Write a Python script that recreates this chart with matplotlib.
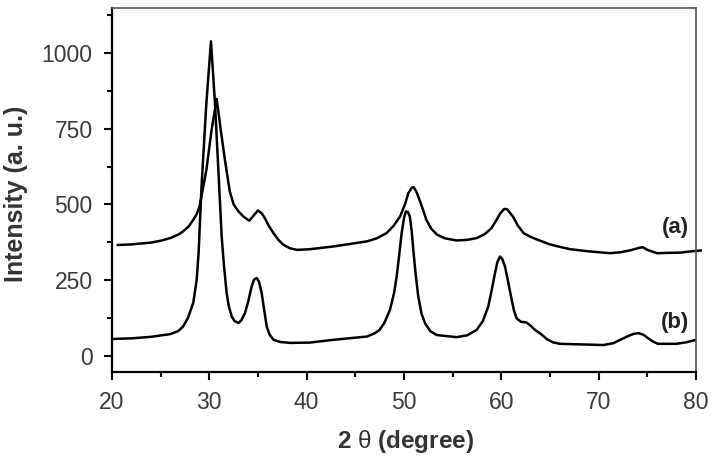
import matplotlib
matplotlib.use("Agg")
import matplotlib.pyplot as plt
from matplotlib.ticker import MultipleLocator

plt.rcParams['font.family'] = ['Liberation Sans', 'DejaVu Sans']
plt.rcParams['mathtext.fontset'] = 'custom'
plt.rcParams['mathtext.rm'] = 'Liberation Sans'

# curve (a)
two_theta_a = [20.6, 22, 24, 25, 26, 26.8, 27.3, 27.9, 28.35, 28.7, 29.0, 29.7,
               30.24, 30.76, 31.17, 31.6, 32.1, 32.5, 33.0, 33.5, 34.1, 34.6, 35.0,
               35.4, 35.7, 36.1, 36.6, 37.1, 37.6, 38.3, 39.0, 40.3, 42.7, 46.2,
               47.2, 48.2, 48.9, 49.6, 50.1, 50.45, 50.8, 51.0, 51.3, 51.6, 52.0,
               52.3, 52.8, 53.4, 54.2, 55.4, 56.5, 57.5, 58.3, 59.0, 59.5, 59.9,
               60.3, 60.6, 61.2, 61.7, 62.3, 63.0, 63.6, 65.0, 66.0, 67.1, 69.0,
               71.2, 72.2, 73.2, 74.0, 74.5, 75.0, 76.0, 77.2, 78.4, 79.5, 80.5]
intensity_a = [366, 368, 374, 380, 389, 400, 411, 428, 449, 468, 493, 614,
               747, 848, 747, 648, 543, 500, 477, 460, 446, 465, 480,
               470, 455, 430, 405, 383, 367, 355, 350, 352, 361, 378,
               388, 405, 428, 460, 500, 537, 555, 557, 540, 515, 478,
               449, 420, 400, 388, 381, 383, 389, 402, 422, 448, 471,
               485, 484, 460, 430, 405, 393, 385, 368, 360, 352, 345,
               339, 342, 348, 355, 359, 350, 339, 340, 341, 345, 348]

# curve (b)
two_theta_b = [20, 22, 24, 26, 26.8, 27.3, 27.8, 28.35, 28.7, 28.9, 29.2, 29.7,
               30.17, 30.58, 30.93, 31.27, 31.5, 31.78, 32.0, 32.3, 32.6, 33.0,
               33.3, 33.67, 34.0, 34.35, 34.6, 34.87, 35.1, 35.38, 35.6, 35.9,
               36.2, 36.6, 37.3, 38.3, 40.3, 42.7, 46.2, 47.0, 47.5, 48.0, 48.56,
               49.0, 49.25, 49.5, 49.76, 50.0, 50.2, 50.4, 50.6, 50.8, 50.96, 51.2,
               51.47, 51.8, 52.16, 52.7, 53.36, 55.4, 56.5, 57.47, 58.1, 58.66,
               59.0, 59.35, 59.6, 59.87, 60.1, 60.38, 60.7, 61.07, 61.3, 61.58,
               62.0, 62.6, 63.0, 63.5, 63.97, 64.7, 65.3, 66.0, 70.5, 71.5, 72.2,
               73.0, 73.6, 74.1, 74.6, 75.1, 75.6, 76.1, 78.0, 79.0, 80.0]
intensity_b = [56, 58, 63, 72, 82, 97, 125, 175, 250, 340, 559, 835,
               1038, 835, 614, 394, 300, 208, 165, 130, 115, 109,
               118, 142, 180, 229, 252, 257, 245, 208, 160, 97,
               70, 53, 46, 43, 44, 53, 64, 75, 86, 110, 152,
               210, 262, 330, 405, 455, 477, 475, 460, 410, 350, 270,
               196, 140, 108, 82, 69, 62, 68, 86, 115, 163,
               215, 273, 310, 328, 320, 295, 245, 185, 150, 124,
               113, 110, 100, 85, 75, 55, 45, 40, 36, 42, 53,
               65, 73, 75, 70, 58, 47, 40, 40, 45, 53]

x_ticks = [20, 30, 40, 50, 60, 70, 80]
y_ticks = [0, 250, 500, 750, 1000]

fig = plt.figure(figsize=(7.16, 4.57), dpi=100)
ax = fig.add_axes([0.1564, 0.186, 0.8156, 0.7965])

ax.plot(two_theta_a, intensity_a, color='black', lw=1.8, clip_on=False)
ax.plot(two_theta_b, intensity_b, color='black', lw=1.8)

ax.set_xlim(20, 80)
ax.set_ylim(-53, 1148)
ax.set_xticks(x_ticks)
ax.set_yticks(y_ticks)
ax.xaxis.set_minor_locator(MultipleLocator(5))
ax.yaxis.set_minor_locator(MultipleLocator(125))

ax.tick_params(which='major', direction='out', length=6, width=1.5,
               labelsize=16.5, labelcolor='#3a3a3a')
ax.tick_params(axis='x', which='major', pad=8)
ax.tick_params(axis='y', which='major', pad=8)
ax.tick_params(which='minor', direction='out', length=3.5, width=1.5)

for side in ['left', 'bottom']:
    ax.spines[side].set_linewidth(1.6)
for side in ['top', 'right']:
    ax.spines[side].set_linewidth(1.2)
    ax.spines[side].set_color('#555555')

ax.set_xlabel(r'2 $\mathrm{\theta}$ (degree)', fontsize=17.5, fontweight='bold', color='#333333')
ax.set_ylabel('Intensity (a. u.)', fontsize=18, fontweight='bold', color='#333333')
ax.xaxis.set_label_coords(0.503, -0.155)
ax.yaxis.set_label_coords(-0.144, 0.49)

ax.text(79.3, 423, '(a)', fontsize=16, fontweight='bold', color='#222222',
        ha='right', va='center')
ax.text(79.3, 109, '(b)', fontsize=16, fontweight='bold', color='#222222',
        ha='right', va='center')

fig.savefig('out.png', dpi=100)
